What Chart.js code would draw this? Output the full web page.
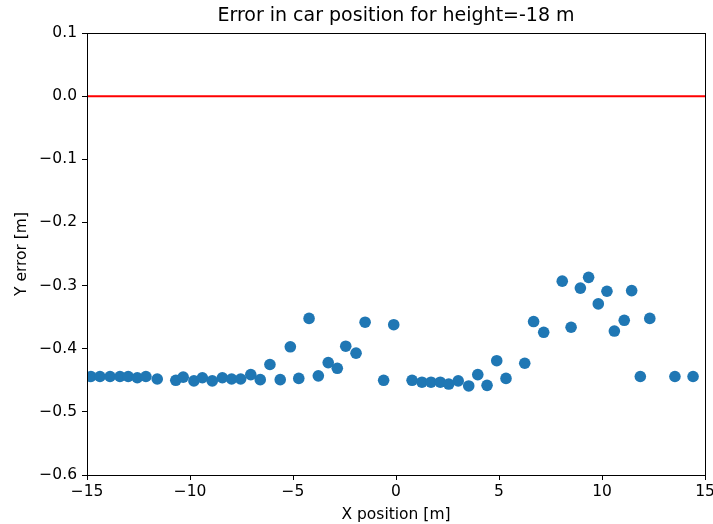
<!DOCTYPE html>
<html>
<head>
<meta charset="utf-8">
<title>Error in car position</title>
<script src="https://cdn.jsdelivr.net/npm/chart.js@4/dist/chart.umd.min.js"></script>
<style>
    html, body { margin: 0; padding: 0; background: #fff; }
    #wrap { position: relative; width: 713px; height: 524px; }
</style>
</head>
<body>
<div id="wrap"><canvas id="chart"></canvas></div>
<script>
// Car x position along the track [m]
const xPos = [
    -14.81, -14.37, -13.88, -13.40, -13.00, -12.56, -12.14, -11.59,
    -10.69, -10.33, -9.81, -9.40, -8.92, -8.43, -7.98, -7.54, -7.05,
    -6.59, -6.12, -5.62, -5.13, -4.72, -4.22, -3.77, -3.29, -2.85,
    -2.44, -1.94, -1.50, -0.60, -0.11, 0.78, 1.26, 1.70, 2.15, 2.56,
    3.02, 3.53, 3.97, 4.42, 4.89, 5.34, 6.25, 6.68, 7.17, 8.07, 8.50,
    8.95, 9.35, 9.82, 10.24, 10.60, 11.08, 11.44, 11.86, 12.32, 13.54, 14.42
];

// Error in the estimated y position [m]
const yErr = [
    -0.444, -0.444, -0.444, -0.444, -0.444, -0.446, -0.444, -0.448,
    -0.450, -0.445, -0.451, -0.446, -0.451, -0.446, -0.448, -0.448, -0.441,
    -0.449, -0.425, -0.449, -0.397, -0.447, -0.352, -0.443, -0.422, -0.431,
    -0.396, -0.407, -0.358, -0.450, -0.362, -0.450, -0.453, -0.453, -0.453, -0.456,
    -0.451, -0.459, -0.441, -0.458, -0.419, -0.447, -0.423, -0.357, -0.374, -0.293, -0.366,
    -0.304, -0.287, -0.329, -0.309, -0.372, -0.355, -0.308, -0.444, -0.352, -0.444, -0.444
];

// Reference line: zero error
const zeroLineX = [-15, 15];
const zeroLineY = [0, 0];

const xTicks = [-15, -10, -5, 0, 5, 10, 15];
const yTicks = [0.1, 0.0, -0.1, -0.2, -0.3, -0.4, -0.5, -0.6];

const titleText = 'Error in car position for height=-18 m';
const fontFamily = "'DejaVu Sans', sans-serif";

// matplotlib style minus sign
function fmt(v, digits) {
    const s = Math.abs(v).toFixed(digits);
    return v < -1e-9 ? '\u2212' + s : s;
}

// Closed box around the plot area, title centred over the axes
const frameBox = {
    id: 'frameBox',
    afterDatasetsDraw(chart) {
        const { ctx, chartArea: a } = chart;
        ctx.save();
        ctx.strokeStyle = '#000';
        ctx.lineWidth = 1;
        ctx.strokeRect(Math.round(a.left) + 0.5, Math.round(a.top) + 0.5,
            Math.round(a.right - a.left), Math.round(a.bottom - a.top));
        ctx.fillStyle = '#000';
        ctx.font = '19px ' + fontFamily;
        ctx.textAlign = 'center';
        ctx.textBaseline = 'middle';
        ctx.fillText(titleText, (a.left + a.right) / 2, 16.5);
        ctx.restore();
    }
};

const axisCommon = {
    border: { display: false },
    grid: {
        drawOnChartArea: false,
        drawTicks: true,
        tickLength: 5,
        tickColor: '#000',
        tickWidth: 1
    }
};

new Chart(document.getElementById('chart'), {
    type: 'scatter',
    data: {
        datasets: [
            {
                label: 'error',
                data: xPos.map((x, i) => ({ x: x, y: yErr[i] })),
                backgroundColor: '#1f77b4',
                borderWidth: 0,
                pointRadius: 5.8,
                pointHoverRadius: 5.8
            },
            {
                type: 'line',
                label: 'zero',
                data: zeroLineX.map((x, i) => ({ x: x, y: zeroLineY[i] })),
                borderColor: '#ff0000',
                borderWidth: 2,
                pointRadius: 0,
                fill: false
            }
        ]
    },
    options: {
        responsive: true,
        maintainAspectRatio: false,
        animation: false,
        layout: { padding: { left: 0, right: 8, top: 33, bottom: 0 } },
        plugins: {
            legend: { display: false },
            tooltip: { enabled: false },
            title: { display: false }
        },
        scales: {
            x: {
                ...axisCommon,
                type: 'linear',
                min: -15,
                max: 15,
                afterBuildTicks(scale) {
                    scale.ticks = xTicks.map(v => ({ value: v }));
                },
                afterFit(scale) {
                    scale.height = 49;
                    scale.paddingLeft = 0;
                    scale.paddingRight = 0;
                },
                ticks: {
                    color: '#000',
                    padding: 3,
                    maxRotation: 0,
                    font: { family: fontFamily, size: 15.5 },
                    callback: v => fmt(v, 0)
                },
                title: {
                    display: true,
                    text: 'X position [m]',
                    color: '#000',
                    font: { family: fontFamily, size: 15.5 },
                    padding: { top: 0, bottom: 0 }
                }
            },
            y: {
                ...axisCommon,
                type: 'linear',
                min: -0.6,
                max: 0.1,
                afterBuildTicks(scale) {
                    scale.ticks = yTicks.map(v => ({ value: v }));
                },
                afterFit(scale) {
                    scale.width = 87;
                    scale.paddingTop = 0;
                    scale.paddingBottom = 0;
                },
                ticks: {
                    color: '#000',
                    padding: 5,
                    font: { family: fontFamily, size: 15.5 },
                    callback: v => fmt(v, 1)
                },
                title: {
                    display: true,
                    text: 'Y error [m]',
                    color: '#000',
                    font: { family: fontFamily, size: 15.5 },
                    padding: { top: 12.5, bottom: 0 }
                }
            }
        }
    },
    plugins: [frameBox]
});
</script>
</body>
</html>
